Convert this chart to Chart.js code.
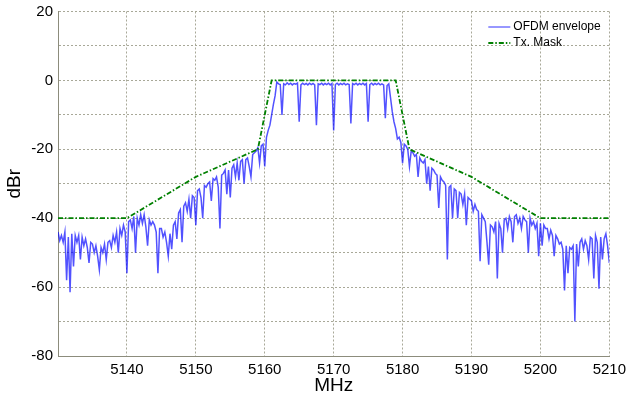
<!DOCTYPE html>
<html>
<head>
<meta charset="utf-8">
<script src="https://cdn.jsdelivr.net/npm/chart.js@4/dist/chart.umd.min.js"></script>
<style>
  html, body { margin: 0; padding: 0; background: #ffffff; }
  #wrap { width: 626px; height: 399px; }
</style>
</head>
<body>
<div id="wrap"><canvas id="c" width="626" height="399"></canvas></div>
<script>
// ---- data ----
// OFDM envelope sampled every 0.25 MHz from 5130 MHz to 5210 MHz (dBr)
const envStartMHz = 5130;
const envStepMHz = 0.25;
const ofdmEnvelopeDbr = [
  -44, -46.5, -45, -47,        // 5130
  -44, -58, -45.5, -61.5,      // 5131
  -44.5, -54, -45, -47,        // 5132
  -45, -52, -45.5, -48,        // 5133
  -46, -48.5, -53, -47,        // 5134
  -47.5, -50, -48, -51,        // 5135
  -55, -48.5, -50, -47.5,      // 5136
  -52, -47, -46.5, -48.5,      // 5137
  -45, -47, -44, -50,          // 5138
  -43, -45, -42, -44,          // 5139
  -56, -41, -40.5, -43,        // 5140
  -39.5, -50, -40, -42,        // 5141
  -39, -41.5, -39, -42.5,      // 5142
  -48, -40.5, -42, -41,        // 5143
  -42, -44, -56, -43,          // 5144
  -43, -45.5, -44, -47,        // 5145
  -51, -44.5, -49, -42,        // 5146
  -41, -46, -38.5, -37.5,      // 5147
  -47, -36.5, -35.5, -38,      // 5148
  -34.5, -40, -33.5, -34,      // 5149
  -42, -32, -31.5, -34,        // 5150
  -40, -30.5, -31, -30,        // 5151
  -29.5, -35, -28.5, -29,      // 5152
  -28, -31, -43, -27.5,        // 5153
  -27, -26, -33, -26,          // 5154
  -34, -25.5, -24.5, -28,      // 5155
  -24, -29, -23.5, -23,        // 5156
  -30, -23, -22.5, -25,        // 5157
  -28, -21.5, -21, -20.5,      // 5158
  -19.5, -24, -19, -18.5,      // 5159
  -25, -16.5, -14.5, -13,      // 5160
  -10, -7, -4.5, -0.5,         // 5161
  -1, -1.2, -10, -1,           // 5162
  -1.3, -0.7, -1.2, -0.8,      // 5163
  -1.3, -0.9, -1.1, -0.8,      // 5164
  -12, -1.3, -0.8, -1.2,       // 5165
  -0.9, -1.3, -0.8, -1.2,      // 5166
  -0.9, -1.3, -13, -1,         // 5167
  -1.2, -0.8, -1.3, -0.9,      // 5168
  -1.2, -0.8, -1.3, -0.9,      // 5169
  -14.5, -1.2, -0.8, -1.3,     // 5170
  -0.9, -1.2, -0.8, -1.3,      // 5171
  -1, -1.2, -12.5, -0.9,       // 5172
  -1.2, -0.8, -1.3, -0.9,      // 5173
  -1.2, -0.8, -1.3, -0.9,      // 5174
  -12, -1.2, -0.8, -1.3,       // 5175
  -0.9, -1.2, -0.8, -1.3,      // 5176
  -1, -1.3, -11, -1.5,         // 5177
  -1, -5, -9, -12,             // 5178
  -14, -17, -16.5, -18,        // 5179
  -24, -18.5, -19, -20,        // 5180
  -25, -20.5, -21, -22,        // 5181
  -21.5, -28, -22.5, -23.5,    // 5182
  -24, -23, -30, -25,          // 5183
  -32, -25.5, -26, -27,        // 5184
  -27.5, -37, -28, -29,        // 5185
  -29.5, -30.5, -52, -31,      // 5186
  -30.5, -40, -31.5, -32,      // 5187
  -40, -32.5, -33, -36,        // 5188
  -33, -42, -34, -34.5,        // 5189
  -35, -38, -36, -37.5,        // 5190
  -38, -52.5, -39, -40,        // 5191
  -41, -47, -53.5, -42,        // 5192
  -42.5, -44, -41, -57.5,      // 5193
  -41.5, -43, -50, -40.5,      // 5194
  -40, -43, -39.5, -41,        // 5195
  -47, -39.5, -39, -41.5,      // 5196
  -40, -43, -39.5, -40.5,      // 5197
  -41, -50, -40, -42,          // 5198
  -41, -43, -41.5, -51,        // 5199
  -41.5, -48, -42, -43,        // 5200
  -43, -46, -43.5, -45,        // 5201
  -51, -45, -46, -47.5,        // 5202
  -47, -49, -61, -48,          // 5203
  -56, -48.5, -49, -48,        // 5204
  -70, -47.5, -54, -47,        // 5205
  -46, -49, -46.5, -48,        // 5206
  -52, -45.5, -46, -57.5,      // 5207
  -45, -47, -60.5, -45.5,      // 5208
  -52, -46, -44.5, -48,        // 5209
  -53                          // 5210
];

// Transmit spectrum mask corner points
const maskFreqMHz = [5130, 5140, 5150, 5159, 5161, 5179, 5181, 5190, 5200, 5210];
const maskDbr     = [-40,  -40,  -28,  -20,  0,    0,    -20,  -28,  -40,  -40];

// Axis ticks
const xTickLabels = [5140, 5150, 5160, 5170, 5180, 5190, 5200, 5210];
const yTickLabels = [20, 0, -20, -40, -60, -80];

const seriesNames = ['OFDM envelope', 'Tx. Mask'];
const xTitle = 'MHz';
const yTitle = 'dBr';

// ---- build datasets ----
const envPoints = ofdmEnvelopeDbr.map((v, i) => ({ x: envStartMHz + i * envStepMHz, y: v }));
const maskPoints = maskFreqMHz.map((f, i) => ({ x: f, y: maskDbr[i] }));

const BLUE = 'rgba(0,0,255,0.68)';
const GREEN = '#008000';
const MASK_DASH = [5, 2, 1.5, 2];
const FONT = 'Arial, "Liberation Sans", Helvetica, sans-serif';

const legendPlugin = {
  id: 'insideLegend',
  afterDatasetsDraw(chart) {
    const { ctx, chartArea } = chart;
    const x0 = chartArea.right - 121, x1 = chartArea.right - 99, tx = chartArea.right - 96;
    const rows = [
      { y: chartArea.top + 15.5, color: '#3030ff', width: 1, dash: [], text: seriesNames[0] },
      { y: chartArea.top + 31.5, color: GREEN, width: 1.8, dash: MASK_DASH, text: seriesNames[1] }
    ];
    ctx.save();
    ctx.font = '12px ' + FONT;
    ctx.textBaseline = 'middle';
    ctx.textAlign = 'left';
    rows.forEach(r => {
      ctx.beginPath();
      ctx.setLineDash(r.dash);
      ctx.strokeStyle = r.color;
      ctx.lineWidth = r.width;
      ctx.moveTo(x0, r.y);
      ctx.lineTo(x1, r.y);
      ctx.stroke();
      ctx.setLineDash([]);
      ctx.fillStyle = '#000000';
      ctx.fillText(r.text, tx, r.y);
    });
    ctx.restore();
  }
};

const whiteBg = {
  id: 'whiteBg',
  beforeDraw(chart) {
    const { ctx, width, height } = chart;
    ctx.save();
    ctx.fillStyle = '#ffffff';
    ctx.fillRect(0, 0, width, height);
    ctx.restore();
  }
};

new Chart(document.getElementById('c'), {
  type: 'line',
  data: {
    datasets: [
      {
        label: seriesNames[1],
        data: maskPoints,
        borderColor: GREEN,
        borderWidth: 1.8,
        borderDash: MASK_DASH,
        pointRadius: 0,
        tension: 0,
        fill: false,
        order: 0
      },
      {
        label: seriesNames[0],
        data: envPoints,
        borderColor: BLUE,
        borderWidth: 1.5,
        pointRadius: 0,
        tension: 0,
        fill: false,
        order: 1
      }
    ]
  },
  options: {
    responsive: false,
    animation: false,
    devicePixelRatio: 1,
    layout: { padding: { top: 11.5, right: 0, left: 0, bottom: 0 } },
    plugins: { legend: { display: false }, tooltip: { enabled: false } },
    scales: {
      x: {
        type: 'linear',
        min: 5130,
        max: 5210,
        afterFit(scale) { scale.height = 43; },
        afterBuildTicks(scale) {
          scale.ticks = [5130].concat(xTickLabels).map(v => ({ value: v }));
        },
        ticks: {
          autoSkip: false,
          maxRotation: 0,
          padding: 0,
          color: '#000000',
          font: { family: FONT, size: 15 },
          callback: (v) => xTickLabels.includes(v) ? String(v) : ''
        },
        grid: { color: '#a8a898', lineWidth: 1, drawTicks: true, tickLength: 5, tickColor: 'rgba(0,0,0,0)' },
        border: { display: true, color: '#8c8c7c', width: 1, dash: [2, 2] },
        title: { display: true, text: xTitle, color: '#000000', font: { family: FONT, size: 19 }, padding: { top: 0, bottom: 2 } }
      },
      y: {
        type: 'linear',
        min: -80,
        max: 20,
        afterFit(scale) { scale.width = 58; },
        ticks: {
          stepSize: 10,
          autoSkip: false,
          padding: 0,
          color: '#000000',
          font: { family: FONT, size: 15 },
          callback: (v) => yTickLabels.includes(v) ? String(v) : ''
        },
        grid: { color: '#a8a898', lineWidth: 1, drawTicks: true, tickLength: 5, tickColor: 'rgba(0,0,0,0)' },
        border: { display: true, color: '#8c8c7c', width: 1, dash: [2, 2] },
        title: { display: true, text: yTitle, color: '#000000', font: { family: FONT, size: 19 }, padding: { top: 3, bottom: 0 } }
      }
    }
  },
  plugins: [whiteBg, legendPlugin]
});
</script>
</body>
</html>
